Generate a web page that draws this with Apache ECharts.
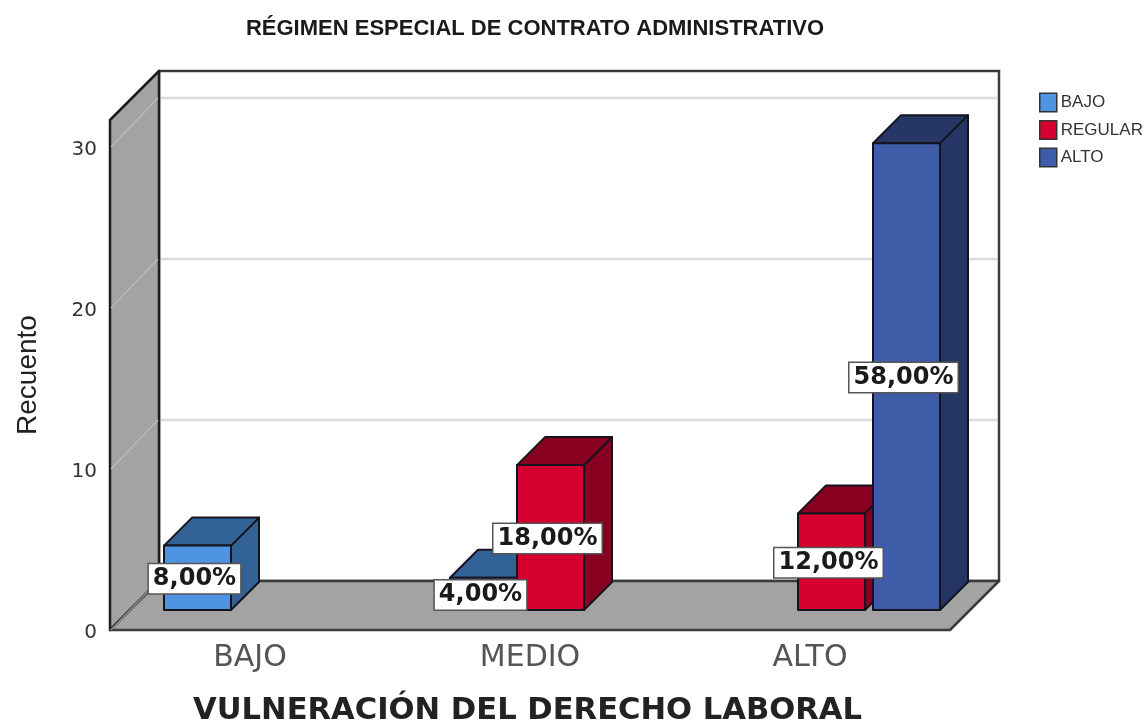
<!DOCTYPE html>
<html><head><meta charset="utf-8">
<style>html,body{margin:0;padding:0;background:#fff}#c{width:1148px;height:724px}</style>
<script src="https://cdn.jsdelivr.net/npm/echarts@6/dist/echarts.min.js"></script>
</head><body><div id="c"></div>
<script>
const titleText = 'RÉGIMEN ESPECIAL DE CONTRATO ADMINISTRATIVO';
const xTitle = 'VULNERACIÓN DEL DERECHO LABORAL';
const yTitle = 'Recuento';
const categories = ['BAJO', 'MEDIO', 'ALTO'];
const seriesNames = ['BAJO', 'REGULAR', 'ALTO'];
const bajoValues = [4, 2, null];
const regularValues = [null, 9, 6];
const altoValues = [null, null, 29];
const bajoLabels = ['8,00%', '4,00%', null];
const regularLabels = [null, '18,00%', '12,00%'];
const altoLabels = [null, null, '58,00%'];
const yTicks = [0, 10, 20, 30];

const WALL = 49, BAR_OFF = 20, BAR_DEPTH = 28, BAR_W = 67;
const INK = '#1c1c1c';
// left edge of each bar relative to its category centre: slotX[category][series]
const slotX = [[-106, 0, 0], [-100, -33, 0], [0, -32, 43]];

function wallsItem(params, api) {
  const s = params.coordSys;
  const L = s.x, R = s.x + s.width, T = s.y, B = s.y + s.height, d = WALL;
  const kids = [];
  const poly = (pts, fill, stroke, lw) => ({type: 'polygon', shape: {points: pts},
    style: {fill, stroke: stroke || INK, lineWidth: lw || 2.5, lineJoin: 'round'}});
  const line = (x1, y1, x2, y2, color, w) => ({type: 'line', shape: {x1, y1, x2, y2},
    style: {stroke: color, lineWidth: w}});
  kids.push({type: 'rect', shape: {x: L + d, y: T - d, width: R - L, height: B - T},
    style: {fill: '#fff', stroke: '#3c3c3c', lineWidth: 2.5}});
  kids.push(poly([[L, T], [L + d, T - d], [L + d, B - d], [L, B]], '#a3a3a3'));
  kids.push(poly([[L, B], [L + d, B - d], [R + d, B - d], [R, B]], '#a3a3a3', '#3a3a3a'));
  yTicks.slice(1).forEach(v => {
    const y = api.coord([0, v])[1];
    kids.push(line(L + d + 2, y - d, R + d - 2, y - d, '#dcdcdc', 2.5));
    kids.push(line(L + 1, y, L + d - 1, y - d, '#b9b9b9', 1.5));
  });
  kids.push(line(L + 1, B, L + d - 1, B - d, '#8c8c8c', 1.5));
  return {type: 'group', children: kids};
}

function barRenderer(seriesIdx, front, dark, labels) {
  return function (params, api) {
    const cat = api.value(0), val = api.value(1);
    const p0 = api.coord([cat, 0]), p1 = api.coord([cat, val]);
    const x0 = p0[0] + BAR_OFF + slotX[cat][seriesIdx];
    const x1 = x0 + BAR_W;
    const yb = p0[1] - BAR_OFF, yt = p1[1] - BAR_OFF, k = BAR_DEPTH;
    const st = fill => ({fill, stroke: '#14141e', lineWidth: 2, lineJoin: 'round'});
    const kids = [
      {type: 'polygon', shape: {points: [[x1, yb], [x1 + k, yb - k], [x1 + k, yt - k], [x1, yt]]}, style: st(dark)},
      {type: 'polygon', shape: {points: [[x0, yt], [x0 + k, yt - k], [x1 + k, yt - k], [x1, yt]]}, style: st(dark)},
      {type: 'rect', shape: {x: x0, y: yt, width: BAR_W, height: yb - yt}, style: st(front)},
      {type: 'text', z2: 100, x: (x0 + x1) / 2 - 3, y: (yb + yt) / 2 + 1, style: {
        text: labels[cat], align: 'center', verticalAlign: 'middle',
        font: 'bold 24px "DejaVu Sans", sans-serif', fill: '#1a1a1a',
        backgroundColor: '#fff', borderColor: '#555', borderWidth: 1.5, padding: [3, 4, 2, 4]}}
    ];
    return {type: 'group', children: kids};
  };
}

function toData(vals) {
  return vals.map((v, i) => [i, v]).filter(d => d[1] !== null);
}

function barSeries(i, values, labels, front, dark) {
  return {type: 'custom', name: seriesNames[i], z: 3, clip: false,
    data: toData(values), encode: {x: 0, y: 1},
    itemStyle: {color: front}, renderItem: barRenderer(i, front, dark, labels)};
}

const chart = echarts.init(document.getElementById('c'), null, {renderer: 'canvas'});
chart.setOption({
  animation: false,
  backgroundColor: '#fff',
  title: {text: titleText, left: 530, top: 13, textAlign: 'center',
    textStyle: {fontFamily: '"Liberation Sans"', fontWeight: 'bold', fontSize: 22, color: '#1a1a1a'}},
  legend: {show: true, orient: 'vertical', left: 1034, top: 87, itemWidth: 17, itemHeight: 18.5, itemGap: 6.5,
    data: seriesNames.map(n => ({name: n})), selectedMode: false,
    itemStyle: {borderColor: '#333', borderWidth: 1.5}, icon: 'rect',
    textStyle: {fontFamily: '"Liberation Sans"', fontSize: 17, lineHeight: 18, color: '#333', padding: [3, 0, 0, -1]}},
  grid: {left: 110, top: 120, width: 840, height: 510, outerBoundsMode: 'none'},
  xAxis: {type: 'category', data: categories,
    axisLine: {show: false}, axisTick: {show: false},
    axisLabel: {margin: 13, fontFamily: '"DejaVu Sans"', fontSize: 30, color: '#555'},
    name: xTitle, nameLocation: 'middle', nameGap: 66,
    nameTextStyle: {fontFamily: '"DejaVu Sans"', fontWeight: 'bold', fontSize: 30.6, color: '#222', padding: [0, 5, 0, 0]}},
  yAxis: {type: 'value', min: 0, max: 31.68, interval: 10,
    splitLine: {show: false}, axisLine: {show: false}, axisTick: {show: false},
    axisLabel: {showMaxLabel: false, margin: 13, formatter: '{n|{value}}',
      rich: {n: {fontFamily: '"DejaVu Sans"', fontSize: 20, color: '#333', padding: [6, 0, 0, 0]}}},
    name: yTitle, nameLocation: 'middle', nameGap: 68, nameRotate: 90,
    nameTextStyle: {fontFamily: '"Liberation Sans"', fontSize: 28, color: '#222'}},
  series: [
    {type: 'custom', name: 'walls', z: 1, clip: false, silent: true, data: [[0, 0]], encode: {x: 0, y: 1}, renderItem: wallsItem},
    barSeries(0, bajoValues, bajoLabels, '#4f94e2', '#336297'),
    barSeries(1, regularValues, regularLabels, '#d60030', '#870020'),
    barSeries(2, altoValues, altoLabels, '#3f5ca8', '#253565')
  ]
});
</script></body></html>
